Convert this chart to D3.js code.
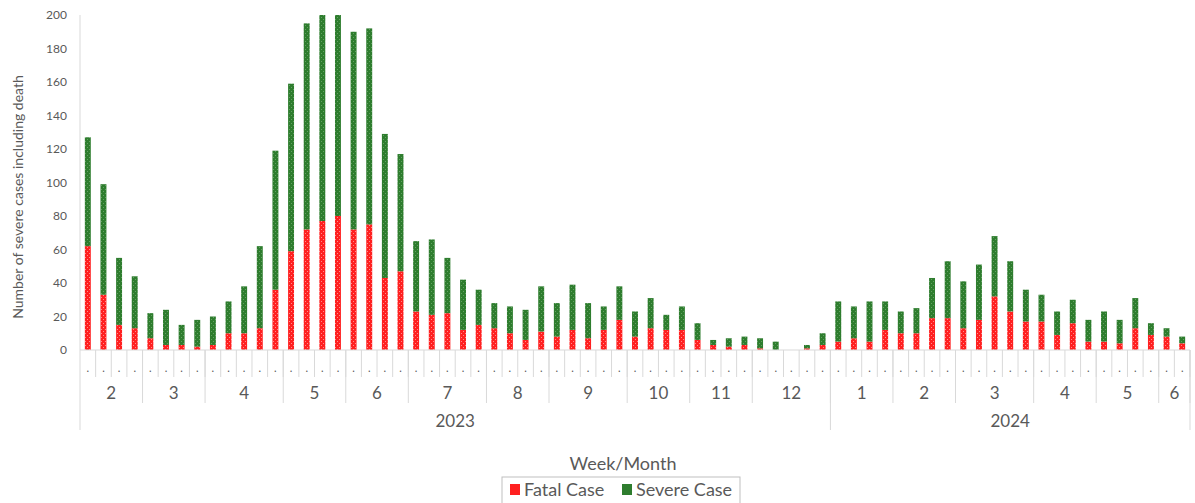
<!DOCTYPE html>
<html>
<head>
<meta charset="utf-8">
<script src="https://cdn.jsdelivr.net/npm/d3@7"></script>
<style>
  body { margin: 0; background: #fff; }
  text { font-family: Lato, "Liberation Sans", sans-serif; fill: #595959; }
</style>
</head>
<body>
<div id="chart"></div>
<script>
// weekly counts, Feb 2023 .. Jun 2024
var fatal = [62,33,15,13,7,3,3,2,3,10, 10,13,36,59,72,77,80,72,75,43,
             47,23,21,22,12,15,13,10,6,11, 8,12,7,12,18,8,13,12,12,6,
             3,2,3,1,0,0,1,3,5,7, 5,12,10,10,19,19,13,18,32,23,
             17,17,9,16,5,5,4,13,9,8,4];
var total = [127,99,55,44,22,24,15,18,20,29, 38,62,119,159,195,200,200,190,192,129,
             117,65,66,55,42,36,28,26,24,38, 28,39,28,26,38,23,31,21,26,16,
             6,7,8,7,5,0,3,10,29,26, 29,29,23,25,43,53,41,51,68,53,
             36,33,23,30,18,23,18,31,16,13,8];
var severe = total.map(function(t, i) { return t - fatal[i]; });

var months = ["2","3","4","5","6","7","8","9","10","11","12","1","2","3","4","5","6"];
var weeksPerMonth = [4,4,5,4,4,5,4,5,4,4,5,4,4,5,4,4,2];
var years = ["2023","2024"];
var monthsPerYear = [11,6];
var yTicks = [0,20,40,60,80,100,120,140,160,180,200];
var seriesNames = ["Fatal Case","Severe Case"];

var width = 1195, height = 503;
// plot area edges (note: "top" is reserved on window)
var plotL = 80, plotR = 1190, plotT = 15, plotB = 350;

var svg = d3.select("#chart").append("svg")
    .attr("width", width)
    .attr("height", height);

var defs = svg.append("defs");
function texture(id, base, spot) {
    var p = defs.append("pattern")
        .attr("id", id)
        .attr("patternUnits", "userSpaceOnUse")
        .attr("width", 4).attr("height", 4);
    p.append("rect").attr("width", 4).attr("height", 4).attr("fill", base);
    p.append("rect").attr("x", 1).attr("y", 1).attr("width", 1).attr("height", 1).attr("fill", spot);
    p.append("rect").attr("x", 3).attr("y", 3).attr("width", 1).attr("height", 1).attr("fill", spot);
}
texture("redTex", "#ff2020", "#ff8a8a");
texture("greenTex", "#2e7d2e", "#64a064");
var colors = ["url(#redTex)", "url(#greenTex)"];
var legendColors = ["#ff2020", "#2e7d2e"];

var idx = d3.range(total.length);
var x = d3.scaleBand()
    .domain(idx)
    .range([plotL, plotR])
    .paddingInner(0.62)
    .paddingOuter(0.31);
var step = x.step();
function edge(i) { return x(i) - step * 0.31; }

var y = d3.scaleLinear().domain([0, 200]).range([plotB, plotT]);

// y axis
var yAxis = d3.axisLeft(y).tickValues(yTicks).tickSize(0).tickPadding(13);
var gy = svg.append("g")
    .attr("transform", "translate(" + plotL + ",0)")
    .call(yAxis);
gy.select(".domain").remove();
gy.selectAll("text")
    .style("font-size", "12px")
    .style("font-family", "Lato, sans-serif")
    .attr("fill", "#595959");

svg.append("line")
    .attr("x1", plotL).attr("x2", plotL)
    .attr("y1", plotT).attr("y2", 430)
    .attr("stroke", "#d9d9d9");

svg.append("text")
    .attr("transform", "translate(23,197) rotate(-90)")
    .attr("text-anchor", "middle")
    .style("font-size", "14px")
    .text("Number of severe cases including death");

// stacked bars
var stackData = idx.map(function(i) { return { i: i, fatal: fatal[i], severe: severe[i] }; });
var stacked = d3.stack().keys(["fatal", "severe"])(stackData);

svg.selectAll("g.series")
    .data(stacked)
    .enter().append("g")
    .attr("class", "series")
    .attr("fill", function(d, k) { return colors[k]; })
    .selectAll("rect")
    .data(function(d) { return d; })
    .enter().append("rect")
    .attr("x", function(d) { return x(d.data.i); })
    .attr("width", x.bandwidth())
    .attr("y", function(d) { return y(Math.min(d[1], 200)); })
    .attr("height", function(d) { return Math.max(0, y(d[0]) - y(Math.min(d[1], 200))); });

// baseline
svg.append("line")
    .attr("x1", plotL).attr("x2", plotR)
    .attr("y1", plotB).attr("y2", plotB)
    .attr("stroke", "#d9d9d9");

// week ticks and dot labels
var gx = svg.append("g");
idx.forEach(function(i) {
    gx.append("line")
        .attr("x1", edge(i) + step).attr("x2", edge(i) + step)
        .attr("y1", plotB).attr("y2", 377)
        .attr("stroke", "#d9d9d9");
    gx.append("text")
        .attr("x", x(i) + x.bandwidth() / 2)
        .attr("y", 372)
        .attr("text-anchor", "middle")
        .style("font-size", "11px")
        .attr("fill", "#7f7f7f")
        .text(".");
});

// month groups
var w = 0;
var monthEdges = [];
months.forEach(function(m, k) {
    var x0 = edge(w), x1 = edge(w + weeksPerMonth[k] - 1) + step;
    monthEdges.push([x0, x1]);
    gx.append("line")
        .attr("x1", x1).attr("x2", x1)
        .attr("y1", plotB).attr("y2", 403)
        .attr("stroke", "#d9d9d9");
    gx.append("text")
        .attr("x", (x0 + x1) / 2)
        .attr("y", 399)
        .attr("text-anchor", "middle")
        .style("font-size", "17px")
        .text(m);
    w += weeksPerMonth[k];
});

// year groups
var mk = 0;
years.forEach(function(yr, k) {
    var x0 = monthEdges[mk][0], x1 = monthEdges[mk + monthsPerYear[k] - 1][1];
    gx.append("line")
        .attr("x1", x1).attr("x2", x1)
        .attr("y1", plotB).attr("y2", 430)
        .attr("stroke", "#d9d9d9");
    gx.append("text")
        .attr("x", (x0 + x1) / 2)
        .attr("y", 427)
        .attr("text-anchor", "middle")
        .style("font-size", "17px")
        .text(yr);
    mk += monthsPerYear[k];
});

svg.append("text")
    .attr("x", 623)
    .attr("y", 470)
    .attr("text-anchor", "middle")
    .style("font-size", "18px")
    .text("Week/Month");

// legend
var lg = svg.append("g").attr("transform", "translate(502,477)");
lg.append("rect")
    .attr("width", 238).attr("height", 30)
    .attr("fill", "none").attr("stroke", "#bfbfbf");
var lx = [8, 120];
seriesNames.forEach(function(name, k) {
    lg.append("rect")
        .attr("x", lx[k]).attr("y", 7)
        .attr("width", 10).attr("height", 11)
        .attr("fill", legendColors[k]);
    lg.append("text")
        .attr("x", lx[k] + 14).attr("y", 19)
        .style("font-size", "18px")
        .text(name);
});
</script>
</body>
</html>
